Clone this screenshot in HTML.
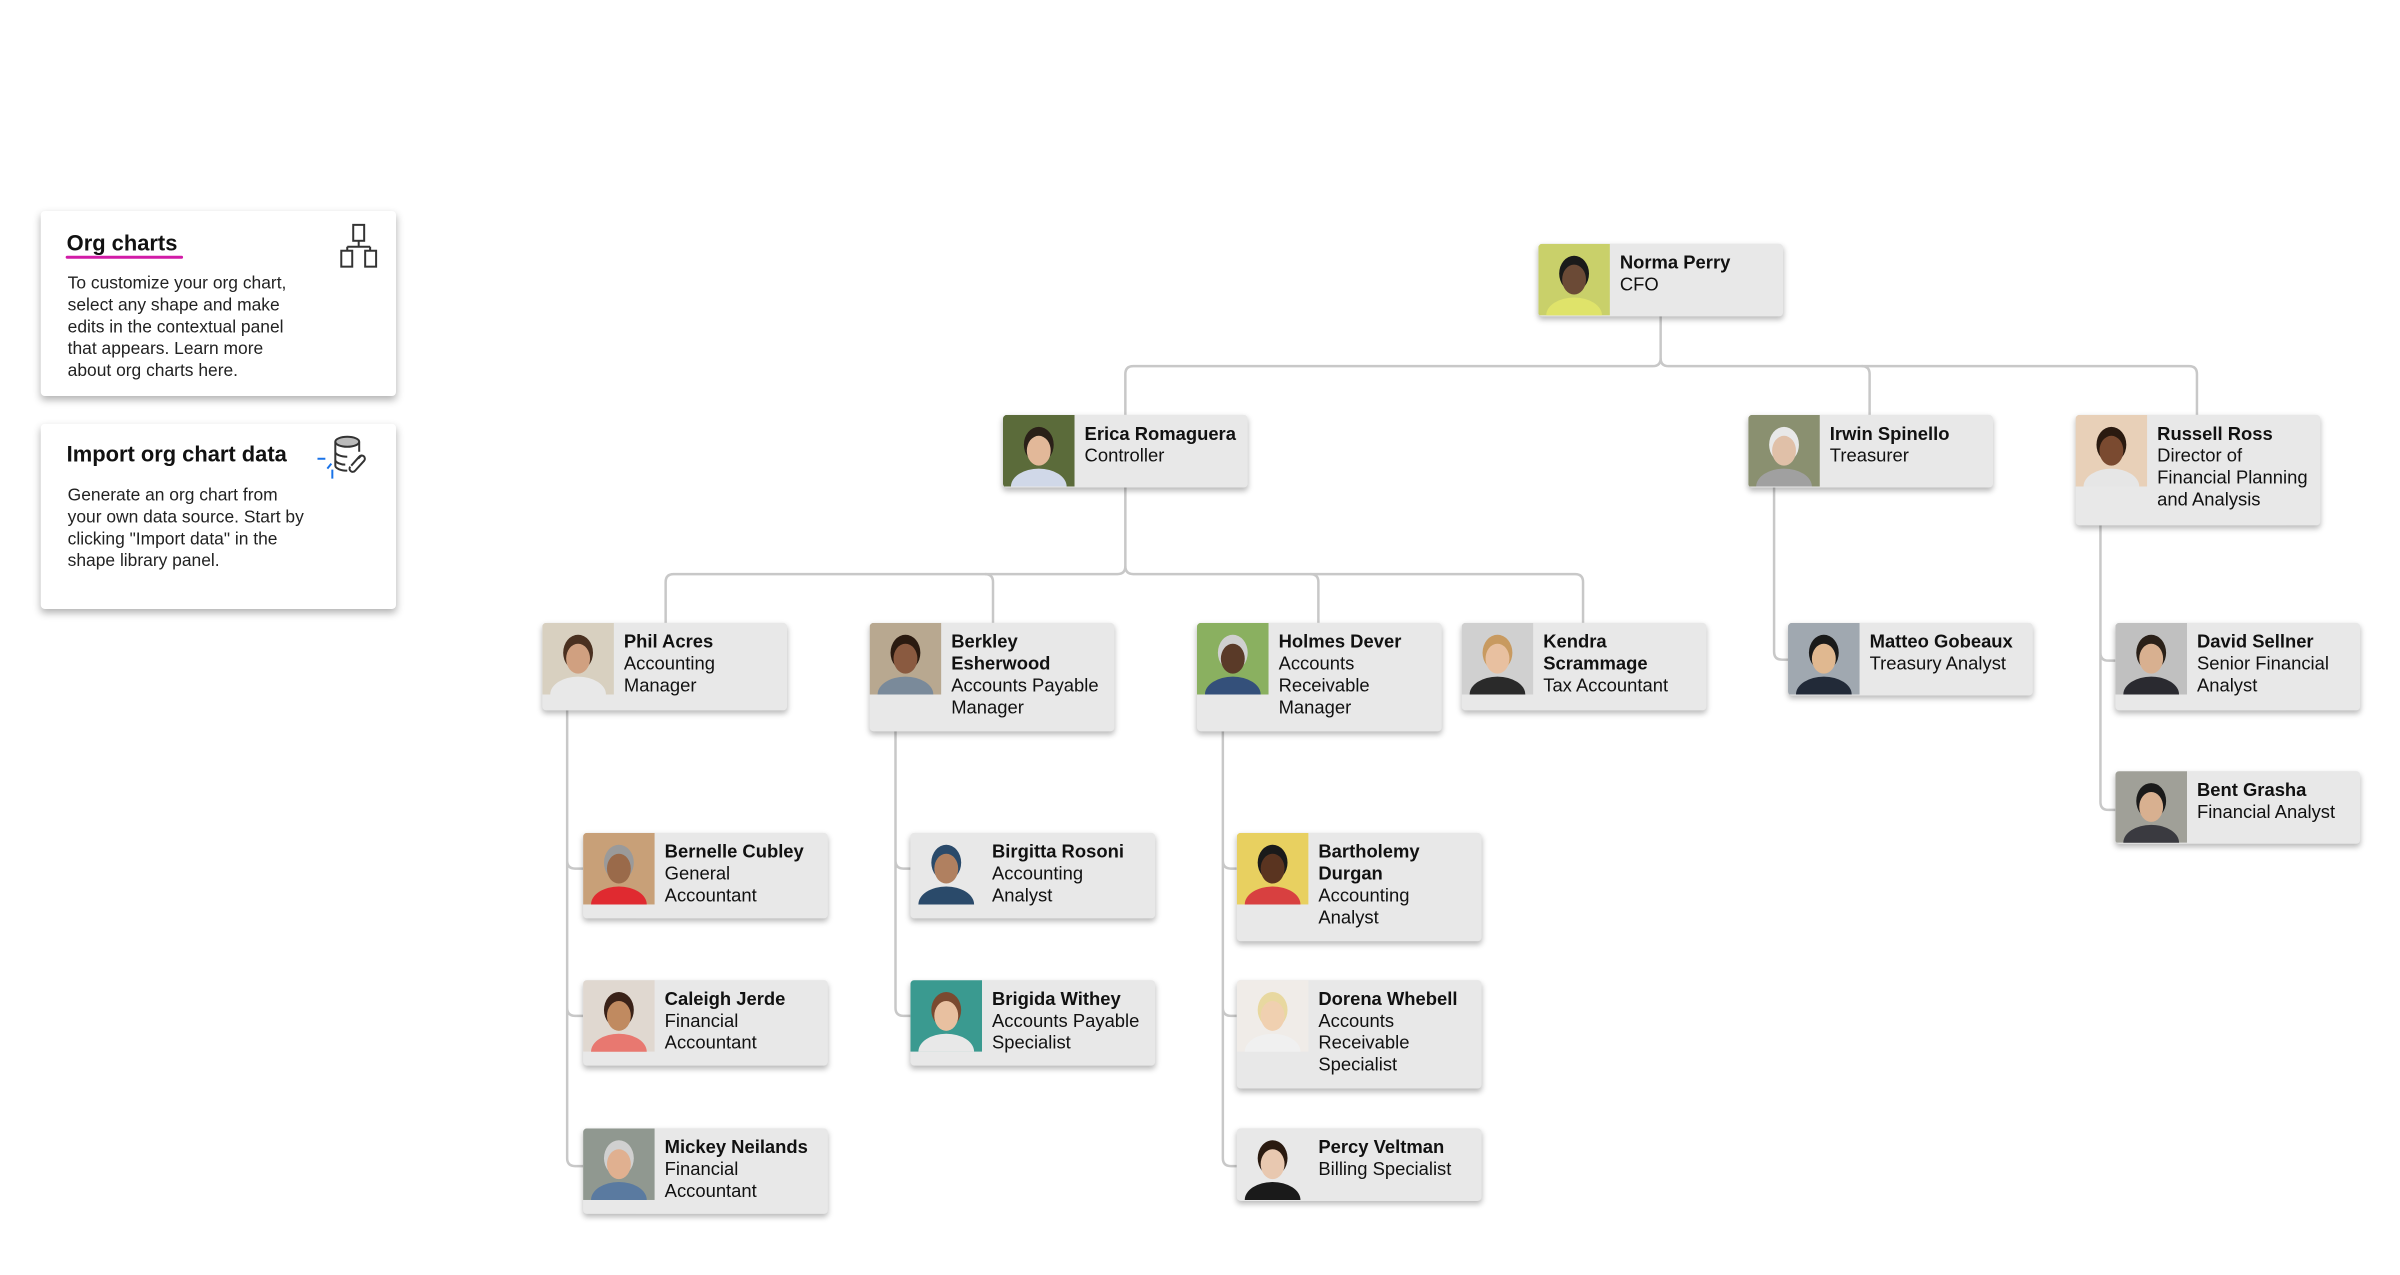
<!DOCTYPE html>
<html><head><meta charset="utf-8"><style>
body{margin:0;width:2400px;height:1275px;background:#fff;position:relative;overflow:hidden;font-family:"Liberation Sans",Arial,sans-serif;}
#w{position:absolute;left:0;top:0;width:2400px;height:1275px;transform:scale(0.995);transform-origin:0 0}
.c{position:absolute;width:246px;background:#e8e8e8;border-radius:4px;box-shadow:0 3px 6px rgba(0,0,0,.28);overflow:hidden}
.c svg{position:absolute;left:0;top:0}
.c .t{position:absolute;left:82px;top:8px;font-size:18.5px;line-height:22px;color:#111}
.c .t b{display:block}
.info{position:absolute;left:41px;width:357px;height:186px;background:#fff;border-radius:4px;box-shadow:0 4px 8px rgba(0,0,0,.3)}
.info h1{position:absolute;left:26px;margin:0;font-size:22px;font-weight:bold;color:#111}
.info p{position:absolute;left:27px;margin:0;font-size:17.5px;line-height:22px;color:#222;width:245px}
</style></head><body><div id="w">
<div class="info" style="top:212px">
<h1 style="top:20px">Org charts</h1>
<div style="position:absolute;left:25px;top:45px;width:118px;height:3px;background:#d21ba7;border-radius:2px"></div>
<p style="top:61px">To customize your org chart, select any shape and make edits in the contextual panel that appears. Learn more about org charts here.</p>
<svg style="position:absolute;left:300px;top:12px" width="44" height="48" viewBox="0 0 44 48" fill="none" stroke="#333" stroke-width="2"><rect x="14" y="2" width="11" height="16"/><path d="M19.5 18v6M8 24h23M8 24v4M31 24v4"/><rect x="2" y="28" width="11" height="16"/><rect x="26" y="28" width="11" height="16"/></svg>
</div>
<div class="info" style="top:426px">
<h1 style="top:18px">Import org chart data</h1>
<p style="top:60px">Generate an org chart from your own data source. Start by clicking "Import data" in the shape library panel.</p>
<svg style="position:absolute;left:278px;top:10px" width="64" height="52" viewBox="0 0 64 52" fill="none" stroke-width="2"><path d="M0 25h8M14 30l-4 5M15 36v9" stroke="#1a73e8"/><ellipse cx="30" cy="8" rx="12" ry="5" stroke="#333" fill="#bbb"/><path d="M18 8v24c0 3 6 5 12 5M42 8v10M18 18c0 3 6 5 12 5M18 26c0 3 6 5 10 5" stroke="#333"/><path d="M34 32l8-9a3 3 0 0 1 5 4l-9 10a3 3 0 0 1-5-4M44 22l-3 3" stroke="#333"/></svg>
</div>

<svg style="position:absolute;left:0;top:0" width="2400" height="1275" fill="none" stroke="#c8c8c8" stroke-width="2.5">
<path d="M1669 318V360Q1669 368 1661 368H1139Q1131 368 1131 376V417"/>
<path d="M1669 360Q1669 368 1677 368H2200Q2208 368 2208 376V417"/>
<path d="M1871 368Q1879 368 1879 376V417"/>
<path d="M1131 490V569Q1131 577 1123 577H677Q669 577 669 585V626"/>
<path d="M1131 569Q1131 577 1139 577H1583Q1591 577 1591 585V626"/>
<path d="M990 577Q998 577 998 585V626M1317 577Q1325 577 1325 585V626"/>
<path d="M1783 490V655Q1783 663 1791 663H1797"/>
<path d="M2111 528V806Q2111 814 2119 814H2126M2111 656Q2111 664 2119 664H2126"/>
<path d="M570 714V1164Q570 1172 578 1172H586M570 865Q570 873 578 873H586M570 1013Q570 1021 578 1021H586"/>
<path d="M900 735V1013Q900 1021 908 1021H915M900 865Q900 873 908 873H915"/>
<path d="M1229 735V1164Q1229 1172 1237 1172H1243M1229 865Q1229 873 1237 873H1243M1229 1013Q1229 1021 1237 1021H1243"/>
</svg>

<div id="cards"></div>
</div>
<script>
var d=[
[1546,245,73,"Norma Perry","CFO","#c9d06a","#6b4a36","#1a1a1a","#dfe36a"],
[1008,417,73,"Erica Romaguera","Controller","#5b6b3a","#e2b899","#2a2018","#d0d8e8"],
[1757,417,73,"Irwin Spinello","Treasurer","#8a9070","#e0c0a8","#e8e8e8","#a0a0a0"],
[2086,417,111,"Russell Ross","Director of<br>Financial Planning<br>and Analysis","#e8d0b8","#7a4a30","#2a1a10","#e6e6e6"],
[545,626,88,"Phil Acres","Accounting<br>Manager","#d8d0c0","#d0a080","#4a3020","#e8e8e8"],
[874,626,109,"Berkley<br>Esherwood","Accounts Payable<br>Manager","#b8a890","#8a5a40","#2a1a10","#7a8a9a"],
[1203,626,109,"Holmes Dever","Accounts<br>Receivable<br>Manager","#8ab060","#5a3a28","#d0d0d0","#34507a"],
[1469,626,88,"Kendra<br>Scrammage","Tax Accountant","#d0d0d0","#e8c0a0","#c89a60","#2a2a2a"],
[1797,626,73,"Matteo Gobeaux","Treasury Analyst","#a0a8b0","#e0b890","#1a1a1a","#222a38"],
[2126,626,88,"David Sellner","Senior Financial<br>Analyst","#c0c0c0","#d8b090","#2a2018","#2a2a30"],
[2126,775,73,"Bent Grasha","Financial Analyst","#a0a098","#d8b090","#1a1a1a","#3a3a40"],
[586,837,86,"Bernelle Cubley","General<br>Accountant","#c8a078","#9a6a4a","#9a9a9a","#e02a30"],
[586,985,86,"Caleigh Jerde","Financial<br>Accountant","#e0d8d0","#c08a60","#3a2218","#e87870"],
[586,1134,86,"Mickey Neilands","Financial<br>Accountant","#909890","#e0b090","#d0d0d0","#5a7aa0"],
[915,837,86,"Birgitta Rosoni","Accounting<br>Analyst","#e8e8e8","#b08060","#2a4a6a","#2a4a6a"],
[915,985,86,"Brigida Withey","Accounts Payable<br>Specialist","#3a9a90","#e8c0a0","#7a4a30","#e8e8e8"],
[1243,837,109,"Bartholemy<br>Durgan","Accounting<br>Analyst","#e8d060","#5a3420","#1a1a1a","#d84040"],
[1243,985,109,"Dorena Whebell","Accounts<br>Receivable<br>Specialist","#f0ece8","#f0d0b0","#e8d8a0","#f0f0f0"],
[1243,1134,73,"Percy Veltman","Billing Specialist","#e8e8e8","#e8c8b0","#2a1a10","#1a1a1a"]];
var h="";
d.forEach(function(a){
h+='<div class="c" style="left:'+a[0]+'px;top:'+a[1]+'px;height:'+a[2]+'px"><svg width="72" height="72"><rect width="72" height="72" fill="'+a[5]+'"/><ellipse cx="36" cy="72" rx="28" ry="18" fill="'+a[8]+'"/><ellipse cx="36" cy="30" rx="15" ry="18" fill="'+a[7]+'"/><ellipse cx="36" cy="36" rx="12" ry="15" fill="'+a[6]+'"/></svg><div class="t"><b>'+a[3]+'</b>'+a[4]+'</div></div>';});
document.getElementById("cards").innerHTML=h;
</script>
</body></html>
